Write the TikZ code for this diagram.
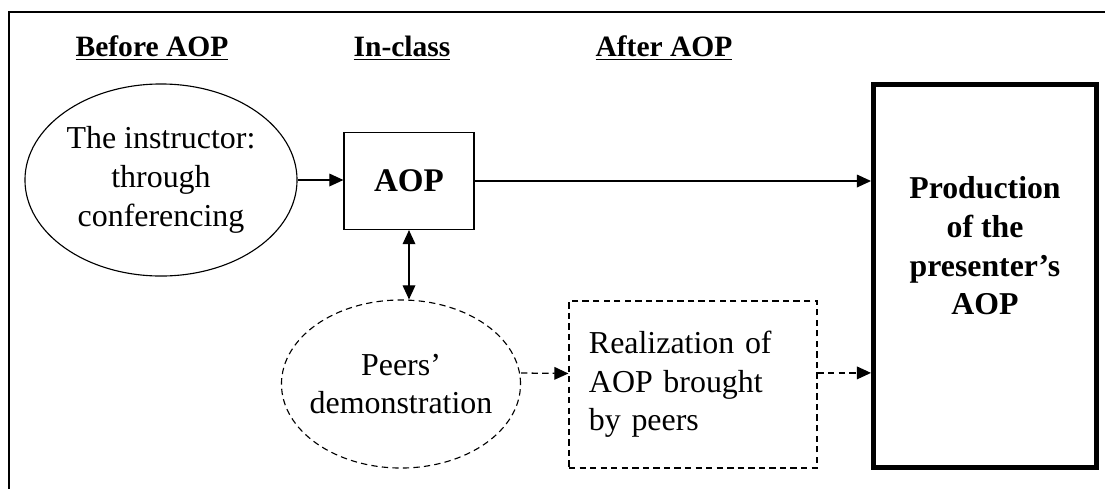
\documentclass[tikz,border=0pt]{standalone}
\usepackage{fontspec}
\setmainfont{Liberation Serif}
\usetikzlibrary{shapes.geometric,arrows.meta,calc}
\begin{document}
\begin{tikzpicture}[x=0.025cm,y=-0.025cm,
  every node/.style={inner sep=0pt,font=\fontsize{22.7}{27.5}\selectfont},
  hdrtxt/.style={font=\fontsize{21}{27}\selectfont\bfseries},
  boldtxt/.style={font=\fontsize{22.6}{27.5}\selectfont\bfseries},
  tip/.style={-{Triangle[length=10pt,width=9pt]}},
  conn/.style={line width=0.9pt,tip},
  dconn/.style={conn,dash pattern=on 4.5pt off 3pt},
  dashbox/.style={draw,line width=0.8pt,dash pattern=on 4.5pt off 3pt},
  solidbox/.style={draw,line width=0.8pt}
]
\useasboundingbox (0,0) rectangle (1105,488);
\draw[line width=1pt] (9,520) -- (9,12) -- (1130,12);

\node[hdrtxt] (h1) at (152,48) {\underline{Before AOP}};
\node[hdrtxt] (h2) at (402,48) {\underline{In-class}};
\node[hdrtxt] (h3) at (664,48) {\underline{After AOP}};

\node[solidbox,ellipse,inner xsep=-0.3cm,minimum width=6.8cm,minimum height=4.8cm,align=center] (inst) at (161,180) {The instructor:\\through\\conferencing};
\node[solidbox,font=\fontsize{23.5}{28}\selectfont\bfseries,minimum width=3.25cm,minimum height=2.425cm] (aop) at (409,181) {AOP};
\node[draw,line width=3.5pt,minimum width=5.575cm,minimum height=9.575cm] (prod) at (985,276) {};
\node[boldtxt,align=center] (prodtxt) at (985,246) {Production\\of the\\presenter's\\AOP};
\node[dashbox,ellipse,inner xsep=-0.3cm,minimum width=5.975cm,minimum height=4.2cm,align=center] (peers) at (401,384) {Peers'\\demonstration};
\node[dashbox,minimum width=6.2cm,minimum height=4.175cm,text width=5.2cm,align=left] (real) at (693,384.5) {Realization of\\AOP brought\\by peers};

\draw[conn] (inst.east) -- (inst.east -| aop.west);
\draw[conn] (aop.east) -- (aop.east -| prod.west);
\draw[line width=0.9pt,{Triangle[length=10pt,width=9pt]}-{Triangle[length=10pt,width=9pt]}] (aop.south) -- (aop.south |- peers.north);
\draw[dconn] ([yshift=0.275cm]peers.east) -- ([yshift=0.275cm]real.west);
\draw[dconn] ([yshift=0.29cm]real.east) -- ([yshift=0.29cm]real.east -| prod.west);
\end{tikzpicture}
\end{document}
